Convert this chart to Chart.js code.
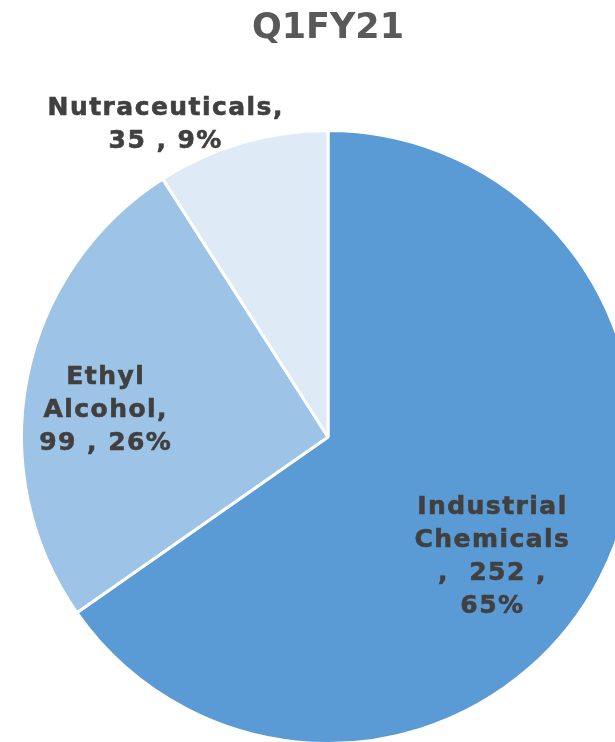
<!DOCTYPE html>
<html>
<head>
<meta charset="utf-8">
<script src="https://cdn.jsdelivr.net/npm/chart.js@4/dist/chart.umd.min.js"></script>
<style>
html,body{margin:0;padding:0;background:#fff;overflow:hidden;width:615px;height:742px;}
canvas{display:block;}
</style>
</head>
<body>
<canvas id="c" width="636" height="745"></canvas>
<script>
const chartTitle = "Q1FY21";
const categories = ["Industrial Chemicals", "Ethyl Alcohol", "Nutraceuticals"];
const values = [252, 99, 35];
const percents = [65, 26, 9];
const labelLines = [
  ["Industrial", "Chemicals", ",  252 ,", "65%"],
  ["Ethyl", "Alcohol,", "99 , 26%"],
  ["Nutraceuticals,", "35 , 9%"]
];
const colors = ["#5B9BD5", "#9DC3E6", "#DEEBF7"];
// label placement: angle shift from slice middle (deg), radial fraction
const labelPlace = [[8.7, 0.665], [-4.5, 0.73], [-11.2, 1.146]];

const labelPlugin = {
  id: 'sliceLabels',
  afterDatasetsDraw(chart) {
    const ctx = chart.ctx;
    const meta = chart.getDatasetMeta(0);
    ctx.save();
    ctx.font = 'bold 25px "DejaVu Sans", Verdana, sans-serif';
    if ('letterSpacing' in ctx) ctx.letterSpacing = '1.45px';
    ctx.fillStyle = '#404040';
    ctx.strokeStyle = '#404040';
    ctx.lineWidth = 0.6;
    ctx.textAlign = 'center';
    ctx.textBaseline = 'middle';
    const lh = 33;
    meta.data.forEach((arc, i) => {
      const p = arc.getProps(['x','y','startAngle','endAngle','outerRadius'], true);
      const mid = (p.startAngle + p.endAngle) / 2 + labelPlace[i][0] * Math.PI / 180;
      const r = p.outerRadius * labelPlace[i][1];
      const cx = p.x + Math.cos(mid) * r;
      const cy = p.y + Math.sin(mid) * r;
      const lines = labelLines[i];
      const y0 = cy - (lines.length - 1) * lh / 2;
      lines.forEach((t, k) => {
        ctx.fillText(t, cx, y0 + k * lh);
        ctx.strokeText(t, cx, y0 + k * lh);
      });
    });
    if ('letterSpacing' in ctx) ctx.letterSpacing = '0px';
    ctx.restore();
  }
};

new Chart(document.getElementById('c'), {
  type: 'pie',
  data: {
    labels: categories,
    datasets: [{
      data: values,
      backgroundColor: colors,
      borderColor: '#ffffff',
      borderWidth: 3
    }]
  },
  options: {
    responsive: false,
    animation: false,
    devicePixelRatio: 1,
    layout: { padding: { left: 20, right: 0, top: 0, bottom: 0 } },
    plugins: {
      legend: { display: false },
      tooltip: { enabled: false },
      title: {
        display: true,
        text: chartTitle,
        color: '#595959',
        font: { family: '"DejaVu Sans", Verdana, sans-serif', size: 35, weight: 'bold', lineHeight: 1.2 },
        padding: { top: 8, bottom: 79 }
      }
    }
  },
  plugins: [labelPlugin]
});
</script>
</body>
</html>
